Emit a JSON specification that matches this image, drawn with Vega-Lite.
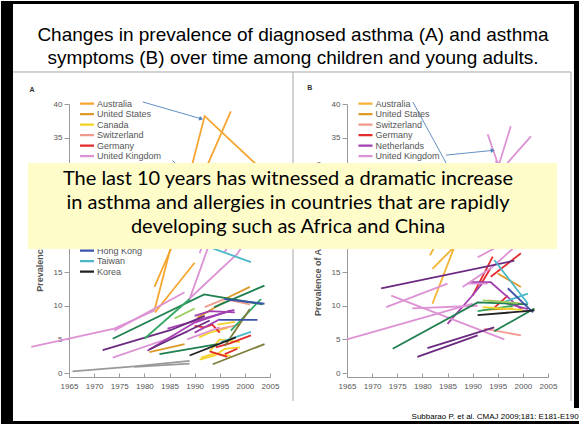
{
  "$schema": "https://vega.github.io/schema/vega-lite/v6.json",
  "background": "white",
  "padding": 0,
  "autosize": {"type": "pad"},
  "datasets": {
    "a": [
      {"c":"Australia","id":"AU1","x":1982,"y":9.3},{"c":"Australia","id":"AU1","x":1992,"y":38.2},{"c":"Australia","id":"AU1","x":2003,"y":30.5},
      {"c":"Australia","id":"AU2","x":1982,"y":12.8},{"c":"Australia","id":"AU2","x":1997.2,"y":38.9},
      {"c":"Australia","id":"AU3","x":1982.1,"y":9.0},{"c":"Australia","id":"AU3","x":1990,"y":16.4},
      {"c":"United States","id":"US1","x":1981,"y":3.1},{"c":"United States","id":"US1","x":1988,"y":4.3},
      {"c":"United States","id":"US2","x":1990.5,"y":8.2},{"c":"United States","id":"US2","x":1996,"y":10.6},
      {"c":"United States","id":"US3","x":1996,"y":11.0},{"c":"United States","id":"US3","x":2001,"y":12.8},
      {"c":"Canada","id":"CA1","x":1990.9,"y":5.3},{"c":"Canada","id":"CA1","x":1993,"y":6.0},{"c":"Canada","id":"CA1","x":1996.6,"y":6.7},
      {"c":"Canada","id":"CA2","x":1991.3,"y":2.3},{"c":"Canada","id":"CA2","x":1994,"y":2.9},{"c":"Canada","id":"CA2","x":1997.2,"y":2.5},
      {"c":"Canada","id":"CA3","x":1993,"y":3.2},{"c":"Canada","id":"CA3","x":1995,"y":5.0},{"c":"Canada","id":"CA3","x":1999,"y":4.6},
      {"c":"Canada","id":"CA4","x":1994.5,"y":7.2},{"c":"Canada","id":"CA4","x":1998,"y":7.6},
      {"c":"Canada","id":"CA5","x":1991,"y":2.0},{"c":"Canada","id":"CA5","x":1994,"y":2.6},{"c":"Canada","id":"CA5","x":1996,"y":3.6},{"c":"Canada","id":"CA5","x":1999,"y":3.8},
      {"c":"Switzerland","id":"CH1","x":1992,"y":9.8},{"c":"Switzerland","id":"CH1","x":1996,"y":11.0},{"c":"Switzerland","id":"CH1","x":2001,"y":10.2},
      {"c":"Switzerland","id":"CH2","x":1994.5,"y":6.5},{"c":"Switzerland","id":"CH2","x":1999,"y":7.2},
      {"c":"Germany","id":"DE1","x":1990,"y":7.0},{"c":"Germany","id":"DE1","x":1992,"y":6.8},{"c":"Germany","id":"DE1","x":1993.5,"y":7.2},{"c":"Germany","id":"DE1","x":1995,"y":6.0},
      {"c":"Germany","id":"DE2","x":1994.2,"y":3.8},{"c":"Germany","id":"DE2","x":1997,"y":4.4},{"c":"Germany","id":"DE2","x":2001.2,"y":5.6},
      {"c":"Germany","id":"DE3","x":1996,"y":2.8},{"c":"Germany","id":"DE3","x":1998.5,"y":3.6},
      {"c":"Germany","id":"DE4","x":1993,"y":3.2},{"c":"Germany","id":"DE4","x":1996.5,"y":2.4},
      {"c":"United Kingdom","id":"UK1","x":1957.5,"y":3.9},{"c":"United Kingdom","id":"UK1","x":1974,"y":6.6},{"c":"United Kingdom","id":"UK1","x":1982,"y":9.3},
      {"c":"United Kingdom","id":"UK2","x":1974,"y":6.3},{"c":"United Kingdom","id":"UK2","x":1988,"y":12.0},
      {"c":"United Kingdom","id":"UK3","x":1973.7,"y":2.3},{"c":"United Kingdom","id":"UK3","x":1988.6,"y":6.1},
      {"c":"United Kingdom","id":"UK4","x":1988.9,"y":11.0},{"c":"United Kingdom","id":"UK4","x":1998.6,"y":17.8},{"c":"United Kingdom","id":"UK4","x":2002,"y":22},
      {"c":"United Kingdom","id":"UK5","x":1988.9,"y":10.8},{"c":"United Kingdom","id":"UK5","x":1992.6,"y":18.5},{"c":"United Kingdom","id":"UK5","x":1994,"y":22},
      {"c":"United Kingdom","id":"UK6","x":1991,"y":17.8},{"c":"United Kingdom","id":"UK6","x":1994,"y":24},
      {"c":"United Kingdom","id":"UK7","x":1996,"y":18},{"c":"United Kingdom","id":"UK7","x":2002,"y":26},
      {"c":"United Kingdom","id":"UK8","x":1988.5,"y":5.0},{"c":"United Kingdom","id":"UK8","x":1995,"y":6.8},
      {"c":"Netherlands","id":"NL1","x":1980.6,"y":3.3},{"c":"Netherlands","id":"NL1","x":1990,"y":7.5},{"c":"Netherlands","id":"NL1","x":1997.2,"y":9.3},
      {"c":"Netherlands","id":"NL2","x":1984.6,"y":6.6},{"c":"Netherlands","id":"NL2","x":1997.9,"y":9.4},
      {"c":"Netherlands","id":"NL3","x":1990,"y":8.5},{"c":"Netherlands","id":"NL3","x":1993,"y":9.2},{"c":"Netherlands","id":"NL3","x":1998,"y":9.0},
      {"c":"Netherlands","id":"NL4","x":1990,"y":6.0},{"c":"Netherlands","id":"NL4","x":1995,"y":8.0},
      {"c":"Sweden","id":"SE1","x":1971.7,"y":3.4},{"c":"Sweden","id":"SE1","x":1985.3,"y":6.4},{"c":"Sweden","id":"SE1","x":1992,"y":8.5},
      {"c":"Sweden","id":"SE2","x":1981,"y":3.5},{"c":"Sweden","id":"SE2","x":1993,"y":7.8},
      {"c":"Finland","id":"FI1","x":1973.7,"y":5.1},{"c":"Finland","id":"FI1","x":1991.9,"y":11.7},{"c":"Finland","id":"FI1","x":2003.5,"y":10.2},
      {"c":"Finland","id":"FI2","x":1993.9,"y":9.8},{"c":"Finland","id":"FI2","x":2003.9,"y":13.0},
      {"c":"Finland","id":"FI3","x":1983,"y":2.8},{"c":"Finland","id":"FI3","x":1994.6,"y":4.3},
      {"c":"Norway","id":"NO1","x":1980,"y":5.1},{"c":"Norway","id":"NO1","x":1989,"y":11.0},
      {"c":"Norway","id":"NO2","x":1997.2,"y":6.3},{"c":"Norway","id":"NO2","x":2003.2,"y":11.0},
      {"c":"Italy","id":"IT1","x":1986,"y":8.1},{"c":"Italy","id":"IT1","x":1990,"y":9.6},
      {"c":"New Zealand","id":"NZ1","x":1993.6,"y":1.3},{"c":"New Zealand","id":"NZ1","x":2003.9,"y":4.3},
      {"c":"New Zealand","id":"NZ2","x":1996,"y":4.0},{"c":"New Zealand","id":"NZ2","x":2001,"y":9.5},
      {"c":"Japan","id":"JP1","x":1965.7,"y":0.25},{"c":"Japan","id":"JP1","x":1978,"y":1.0},{"c":"Japan","id":"JP1","x":1989,"y":1.8},
      {"c":"Japan","id":"JP2","x":1978,"y":0.9},{"c":"Japan","id":"JP2","x":1989,"y":1.4},
      {"c":"Hong Kong","id":"HK1","x":1994.9,"y":7.9},{"c":"Hong Kong","id":"HK1","x":2002.5,"y":7.9},
      {"c":"Hong Kong","id":"HK2","x":1995.9,"y":11.0},{"c":"Hong Kong","id":"HK2","x":2003.9,"y":10.3},
      {"c":"Taiwan","id":"TW1","x":1990,"y":19.5},{"c":"Taiwan","id":"TW1","x":2001.2,"y":16.5},
      {"c":"Taiwan","id":"TW2","x":1995.2,"y":4.6},{"c":"Taiwan","id":"TW2","x":2001.2,"y":6.1},
      {"c":"Korea","id":"KR1","x":1989,"y":2.6},{"c":"Korea","id":"KR1","x":1998.2,"y":5.3}
    ],
    "b": [
      {"c":"Australia","id":"AU1","x":1982,"y":10.3},{"c":"Australia","id":"AU1","x":1986.4,"y":18.8},{"c":"Australia","id":"AU1","x":1988,"y":24},
      {"c":"Australia","id":"AU2","x":1981.5,"y":17.5},{"c":"Australia","id":"AU2","x":1983,"y":19.5},
      {"c":"Australia","id":"AU3","x":1982,"y":15.5},{"c":"Australia","id":"AU3","x":1986.4,"y":18.8},
      {"c":"United States","id":"US1","x":1995,"y":14.8},{"c":"United States","id":"US1","x":1999.6,"y":12.8},
      {"c":"United States","id":"US2","x":1992,"y":9.4},{"c":"United States","id":"US2","x":1998,"y":9.6},
      {"c":"Switzerland","id":"CH1","x":1992.3,"y":6.6},{"c":"Switzerland","id":"CH1","x":1999.6,"y":5.6},
      {"c":"Switzerland","id":"CH2","x":1993,"y":10.8},{"c":"Switzerland","id":"CH2","x":2000,"y":10.3},
      {"c":"Germany","id":"DE1","x":1990,"y":11.5},{"c":"Germany","id":"DE1","x":1994,"y":17.3},
      {"c":"Germany","id":"DE2","x":1993.6,"y":14.3},{"c":"Germany","id":"DE2","x":1999.6,"y":17.8},
      {"c":"Germany","id":"DE3","x":1994,"y":9.5},{"c":"Germany","id":"DE3","x":1997,"y":11.5},
      {"c":"Germany","id":"DE4","x":1991.5,"y":13},{"c":"Germany","id":"DE4","x":1993.5,"y":15.5},
      {"c":"Netherlands","id":"NL1","x":1985,"y":7.3},{"c":"Netherlands","id":"NL1","x":1989.7,"y":11.3},{"c":"Netherlands","id":"NL1","x":1992,"y":13.4},
      {"c":"Netherlands","id":"NL2","x":1989.7,"y":13.5},{"c":"Netherlands","id":"NL2","x":1993.6,"y":13.5},{"c":"Netherlands","id":"NL2","x":2000.3,"y":9.1},
      {"c":"Netherlands","id":"NL3","x":1996,"y":10.5},{"c":"Netherlands","id":"NL3","x":2001,"y":9.5},
      {"c":"United Kingdom","id":"UK1","x":1965,"y":5.0},{"c":"United Kingdom","id":"UK1","x":1990,"y":10.3},
      {"c":"United Kingdom","id":"UK2","x":1973.8,"y":11.5},{"c":"United Kingdom","id":"UK2","x":1996.3,"y":5.0},
      {"c":"United Kingdom","id":"UK3","x":1972.8,"y":9.8},{"c":"United Kingdom","id":"UK3","x":1985,"y":13.3},
      {"c":"United Kingdom","id":"UK4","x":1978,"y":9.6},{"c":"United Kingdom","id":"UK4","x":1991,"y":10.0},
      {"c":"United Kingdom","id":"UK5","x":1989,"y":13.3},{"c":"United Kingdom","id":"UK5","x":1993,"y":13.3},
      {"c":"United Kingdom","id":"UK6","x":1988,"y":12.8},{"c":"United Kingdom","id":"UK6","x":1994,"y":15.8},{"c":"United Kingdom","id":"UK6","x":1998,"y":18.5},
      {"c":"United Kingdom","id":"UK7","x":1991,"y":17.2},{"c":"United Kingdom","id":"UK7","x":1995,"y":18.8},
      {"c":"United Kingdom","id":"UK8","x":1993,"y":35.5},{"c":"United Kingdom","id":"UK8","x":1996,"y":29},
      {"c":"United Kingdom","id":"UK9","x":1994,"y":28},{"c":"United Kingdom","id":"UK9","x":1997.6,"y":36.7},
      {"c":"United Kingdom","id":"UK10","x":1995.5,"y":30},{"c":"United Kingdom","id":"UK10","x":1999,"y":33},{"c":"United Kingdom","id":"UK10","x":2001.6,"y":35.2},
      {"c":"United Kingdom","id":"UK11","x":1994.5,"y":31.5},{"c":"United Kingdom","id":"UK11","x":1999,"y":29.5},
      {"c":"Sweden","id":"SE1","x":1971.8,"y":12.6},{"c":"Sweden","id":"SE1","x":1998.3,"y":16.7},
      {"c":"Sweden","id":"SE2","x":1981,"y":3.7},{"c":"Sweden","id":"SE2","x":1994.3,"y":6.8},
      {"c":"Sweden","id":"SE3","x":1979,"y":2.4},{"c":"Sweden","id":"SE3","x":1991,"y":5.6},
      {"c":"Finland","id":"FI1","x":1974.1,"y":3.6},{"c":"Finland","id":"FI1","x":1991,"y":10.5},{"c":"Finland","id":"FI1","x":2001,"y":10.2},
      {"c":"Finland","id":"FI2","x":1994.3,"y":6.2},{"c":"Finland","id":"FI2","x":2002.3,"y":9.6},
      {"c":"Norway","id":"NO1","x":1991,"y":9.2},{"c":"Norway","id":"NO1","x":1998,"y":10.0},
      {"c":"Taiwan","id":"TW1","x":1994.3,"y":16.8},{"c":"Taiwan","id":"TW1","x":2001,"y":10.3},
      {"c":"Taiwan","id":"TW2","x":1996,"y":10.5},{"c":"Taiwan","id":"TW2","x":2001,"y":11.8},
      {"c":"Hong Kong","id":"HK1","x":1997,"y":12.6},{"c":"Hong Kong","id":"HK1","x":2002,"y":9.0},
      {"c":"Korea","id":"KR1","x":1991,"y":8.6},{"c":"Korea","id":"KR1","x":2002.3,"y":9.3},
      {"c":"Canada","id":"CA1","x":1992,"y":9.8},{"c":"Canada","id":"CA1","x":2000,"y":9.4},
      {"c":"Italy","id":"IT1","x":1992,"y":10.8},{"c":"Italy","id":"IT1","x":1999,"y":10.4}
    ]
  },
  "hconcat": [
    {
      "width": 201, "height": 269,
      "encoding": {
        "x": {"field": "x", "type": "quantitative", "scale": {"domain": [1965, 2005], "nice": false, "zero": false},
              "axis": {"values": [1965,1970,1975,1980,1985,1990,1995,2000,2005], "format": "d", "title": null}},
        "y": {"field": "y", "type": "quantitative", "scale": {"domain": [0, 40], "nice": false},
              "axis": {"values": [0,5,10,15,20,25,30,35,40], "title": "Prevalence of asthma, %", "titlePadding": 9}}
      },
      "layer": [
        {
          "data": {"name": "a"},
          "mark": {"type": "line", "strokeWidth": 1.8, "clip": false},
          "encoding": {
            "color": {"field": "c", "type": "nominal",
              "scale": {
                "domain": ["Australia","United States","Canada","Switzerland","Germany","United Kingdom","Netherlands","Sweden","Finland","Norway","Italy","New Zealand","Japan","Spain","Hong Kong","Taiwan","Korea"],
                "range": ["#f5a630","#dc9a28","#f3d326","#f29a8e","#e32b2b","#dd92d4","#a33fb0","#6b2a80","#1f7f4f","#33a864","#98cc58","#7d7d3a","#9a9a9a","#c07030","#3a55a8","#4ab8c8","#222222"]
              },
              "legend": {"orient": "none", "legendX": 9.5, "legendY": -5.3}},
            "detail": {"field": "id"}
          }
        },
        {
          "data": {"values": [{"x": 1979.7, "y": 40.3, "x2": 1991.3, "y2": 37.8}, {"x": 1985.6, "y": 31.6, "x2": 1993, "y2": 26}]},
          "mark": {"type": "rule", "color": "#4f81bd", "strokeWidth": 0.9, "clip": false},
          "encoding": {"x2": {"field": "x2"}, "y2": {"field": "y2"}}
        },
        {
          "data": {"values": [{"x": 1991.3, "y": 37.8}]},
          "mark": {"type": "point", "shape": "triangle-right", "angle": 16, "size": 22, "filled": true, "color": "#4f81bd", "opacity": 1, "clip": false}
        }
      ]
    },
    {
      "width": 201, "height": 269,
      "encoding": {
        "x": {"field": "x", "type": "quantitative", "scale": {"domain": [1965, 2005], "nice": false, "zero": false},
              "axis": {"values": [1965,1970,1975,1980,1985,1990,1995,2000,2005], "format": "d", "title": null}},
        "y": {"field": "y", "type": "quantitative", "scale": {"domain": [0, 40], "nice": false},
              "axis": {"values": [0,5,10,15,20,25,30,35,40], "title": "Prevalence of Asthma symptoms, %", "titlePadding": 9}}
      },
      "layer": [
        {
          "data": {"name": "b"},
          "mark": {"type": "line", "strokeWidth": 1.8, "clip": false},
          "encoding": {
            "color": {"field": "c", "type": "nominal",
              "scale": {
                "domain": ["Australia","United States","Switzerland","Germany","Netherlands","United Kingdom","Sweden","Finland","Norway","Italy","Canada","Hong Kong","Taiwan","Korea"],
                "range": ["#f3b234","#dc9a28","#f29a8e","#e32b2b","#a33fb0","#dd92d4","#6b2a80","#1f7f4f","#33a864","#98cc58","#f3d326","#3a55a8","#4ab8c8","#222222"]
              },
              "legend": {"orient": "none", "legendX": 10, "legendY": -5.3, "values": ["Australia","United States","Switzerland","Germany","Netherlands","United Kingdom"]}},
            "detail": {"field": "id"}
          }
        },
        {
          "data": {"values": [{"x": 1978.1, "y": 40.3, "x2": 1990, "y2": 24}, {"x": 1984.7, "y": 32.4, "x2": 1994.0, "y2": 33.1}]},
          "mark": {"type": "rule", "color": "#4f81bd", "strokeWidth": 0.9, "clip": false},
          "encoding": {"x2": {"field": "x2"}, "y2": {"field": "y2"}}
        },
        {
          "data": {"values": [{"x": 1994.0, "y": 33.1}]},
          "mark": {"type": "point", "shape": "triangle-right", "angle": -6, "size": 22, "filled": true, "color": "#4f81bd", "opacity": 1, "clip": false}
        },
        {
          "data": {"values": [
            {"x": 1898.53, "y": 44.76, "x2": 2009.58, "y2": 44.76},
            {"x": 1954.25, "y": 44.76, "x2": 1954.25, "y2": -4.16},
            {"x": 2009.58, "y": 44.76, "x2": 2009.58, "y2": -4.16}
          ]},
          "mark": {"type": "rule", "color": "#a6a6a6", "strokeWidth": 1, "clip": false},
          "encoding": {"x2": {"field": "x2"}, "y2": {"field": "y2"}}
        },
        {
          "data": {"values": [
            {"x": 1954.25, "y": 49.35, "t": "Changes in prevalence of diagnosed asthma (A) and asthma"},
            {"x": 1954.25, "y": 46.0, "t": "symptoms (B) over time among children and young adults."}
          ]},
          "mark": {"type": "text", "font": "Liberation Sans", "fontSize": 19, "color": "black", "align": "center", "baseline": "alphabetic", "clip": false},
          "encoding": {"text": {"field": "t"}}
        },
        {
          "data": {"values": [{"x": 1901.5, "y": 31.23, "x2": 2006.8, "y2": 18.44}]},
          "mark": {"type": "rect", "color": "#fefcc8", "opacity": 1, "clip": false},
          "encoding": {"x2": {"field": "x2"}, "y2": {"field": "y2"}}
        },
        {
          "data": {"values": [
            {"x": 1953.26, "y": 28.85, "t": "The last 10 years has witnessed a dramatic increase"},
            {"x": 1953.26, "y": 25.28, "t": "in asthma and allergies in countries that are rapidly"},
            {"x": 1953.26, "y": 21.71, "t": "developing such as Africa and China"}
          ]},
          "mark": {"type": "text", "font": "Lato", "fontSize": 20, "color": "black", "align": "center", "baseline": "middle", "clip": false},
          "encoding": {"text": {"field": "t"}}
        },
        {
          "data": {"values": [{"x": 1902.3, "y": 42.1, "t": "A"}, {"x": 1957.6, "y": 42.4, "t": "B"}]},
          "mark": {"type": "text", "font": "Liberation Sans", "fontSize": 7, "fontWeight": "bold", "color": "#333", "align": "center", "baseline": "middle", "clip": false},
          "encoding": {"text": {"field": "t"}}
        },
        {
          "data": {"values": [
            {"x": 1896.14, "y": 55.32, "x2": 1898.53, "y2": -7.73},
            {"x": 2010.17, "y": 55.32, "x2": 2011.37, "y2": -5.2},
            {"x": 1896.14, "y": 55.32, "x2": 2011.37, "y2": 54.87},
            {"x": 1896.14, "y": -7.14, "x2": 2011.37, "y2": -7.73}
          ]},
          "mark": {"type": "rect", "color": "black", "opacity": 1, "clip": false},
          "encoding": {"x2": {"field": "x2"}, "y2": {"field": "y2"}}
        },
        {
          "data": {"values": [{"x": 2011.1, "y": -6.84, "t": "Subbarao P. et al. CMAJ 2009;181: E181-E190"}]},
          "mark": {"type": "text", "font": "Liberation Sans", "fontSize": 8, "color": "black", "align": "right", "baseline": "alphabetic", "clip": false},
          "encoding": {"text": {"field": "t"}}
        }
      ]
    }
  ],
  "spacing": 77,
  "bounds": "flush",
  "resolve": {"scale": {"color": "independent", "x": "independent", "y": "independent"}, "legend": {"color": "independent"}},
  "config": {
    "view": {"stroke": null},
    "axisX": {"labelFont": "Liberation Sans", "labelFontSize": 8, "labelColor": "#555", "domainColor": "#9a9a9a", "tickColor": "#9a9a9a", "tickSize": -4, "offset": 4, "labelPadding": 9, "grid": false, "labelOverlap": false, "labelFlush": false},
    "axisY": {"labelFont": "Liberation Sans", "labelFontSize": 8, "labelColor": "#555", "domainColor": "#9a9a9a", "tickColor": "#9a9a9a", "tickSize": 5, "labelPadding": 2, "grid": false, "labelOverlap": false, "labelFlush": false, "titleFont": "Liberation Sans", "titleFontSize": 9, "titleFontWeight": "bold", "titleColor": "#555"},
    "legend": {"title": null, "symbolType": "stroke", "symbolSize": 196, "symbolStrokeWidth": 2.2, "labelFont": "Liberation Sans", "labelFontSize": 9, "labelColor": "#555", "rowPadding": 0.5, "clipHeight": 10, "labelOffset": 1.5, "padding": 0}
  }
}
